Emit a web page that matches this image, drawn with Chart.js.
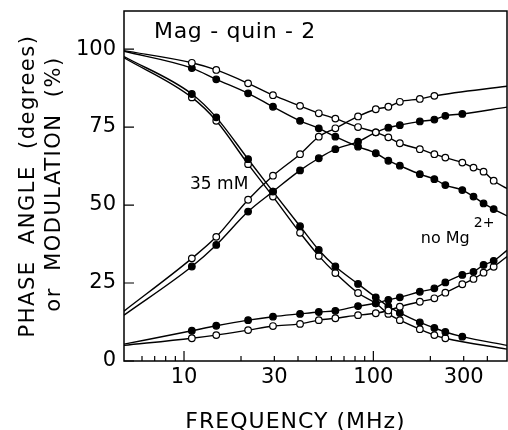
<!DOCTYPE html>
<html>
<head>
<meta charset="utf-8">
<script src="https://cdn.jsdelivr.net/npm/chart.js@4.4.1/dist/chart.umd.min.js"></script>
<style>
  html, body { margin: 0; padding: 0; background: #fff; }
  #wrap { width: 508px; height: 430px; position: relative; }
</style>
</head>
<body>
<div id="wrap"><canvas id="chart"></canvas></div>
<script>
// =================== DATA ===================
const freqMHz = [11, 14.8, 21.8, 29.5, 41, 51.5, 63, 83, 103, 120, 138, 176, 210, 240, 295, 338, 382, 432];
const xRange = [4.82, 508];

// modulation (%), no Mg2+
const modNoMgOpen   = [95.6, 93.3, 89.0, 85.2, 81.8, 79.4, 77.7, 75.0, 73.3, 71.7, 69.8, 67.9, 66.3, 65.2, 63.6, 62.0, 60.7, 57.8];
const modNoMgFilled = [93.9, 90.3, 85.8, 81.5, 77.0, 74.6, 71.9, 68.7, 66.6, 64.2, 62.6, 59.9, 58.3, 56.4, 54.8, 52.7, 50.5, 48.7];
// phase (degrees), no Mg2+
const phaseNoMgFilled = [9.7, 11.3, 13.1, 14.2, 15.1, 15.7, 16.1, 17.6, 18.5, 19.6, 20.4, 22.2, 23.3, 25.2, 27.6, 28.6, 30.8, 32.1];
const phaseNoMgOpen   = [7.3, 8.3, 9.9, 11.2, 11.9, 13.1, 13.7, 14.7, 15.3, 16.2, 17.4, 19.0, 20.1, 21.9, 24.6, 26.3, 28.3, 30.2];
// modulation (%), 35 mM
const mod35Filled = [85.6, 78.1, 64.7, 54.3, 43.2, 35.6, 30.3, 24.7, 20.4, 17.5, 15.4, 12.4, 10.6, 9.3, 7.8];
const mod35Open   = [84.5, 77.0, 63.1, 52.7, 41.1, 33.7, 28.2, 21.8, 18.5, 15.1, 13.1, 10.2, 8.3, 7.3];
// phase (degrees), 35 mM
const phase35Filled = [30.3, 37.2, 47.9, 54.3, 61.1, 65.0, 67.9, 70.3, 73.3, 74.8, 75.6, 76.8, 77.4, 78.6, 79.2];
const phase35Open   = [32.9, 39.8, 51.7, 59.4, 66.3, 71.9, 74.6, 78.4, 80.7, 81.5, 83.1, 84.0, 85.0];

// fitted curve values at the left / right edge of the plot
const modNoMgOpenEnds = [99.5, 55.3];
const modNoMgFilledEnds = [99.3, 46.5];
const phaseNoMgFilledEnds = [5.4, 35.5];
const phaseNoMgOpenEnds = [5.0, 33.5];
const mod35FilledEnds = [97.6, 5.0];
const mod35OpenEnds = [97.2, 3.8];
const phase35FilledEnds = [14.7, 81.4];
const phase35OpenEnds = [16.0, 88.1];

const yTicks = [0, 25, 50, 75, 100];
const xTicks = [6, 7, 8, 9, 10, 20, 30, 40, 50, 60, 70, 80, 90, 100, 200, 300, 400];
const xLabels = [10, 30, 100, 300];
const xMajor = [10, 100];

// =================== HELPERS ===================
const pts = vals => vals.map((v, i) => ({ x: freqMHz[i], y: v }));
const curve = (vals, ends) => [{ x: xRange[0], y: ends[0] }, ...pts(vals), { x: xRange[1], y: ends[1] }];

const seriesList = [
  [modNoMgOpen, modNoMgOpenEnds, true],
  [modNoMgFilled, modNoMgFilledEnds, false],
  [phaseNoMgFilled, phaseNoMgFilledEnds, false],
  [phaseNoMgOpen, phaseNoMgOpenEnds, true],
  [mod35Filled, mod35FilledEnds, false],
  [mod35Open, mod35OpenEnds, true],
  [phase35Filled, phase35FilledEnds, false],
  [phase35Open, phase35OpenEnds, true],
];

const lineSets = seriesList.map(([vals, ends]) => ({
  data: curve(vals, ends),
  showLine: true,
  borderColor: "#000",
  borderWidth: 1.4,
  pointRadius: 0,
  cubicInterpolationMode: "monotone",
  order: 2,
}));

const pointSets = seriesList.map(([vals, , open]) => ({
  data: pts(vals),
  showLine: false,
  pointRadius: 3.3,
  pointBorderWidth: 1.2,
  pointBorderColor: "#000",
  pointBackgroundColor: open ? "#fff" : "#000",
  order: 1,
}));

const FONT = "'DejaVu Sans', sans-serif";

// frame, inward ticks, axis titles and labels inside the plot
const framePlugin = {
  id: "frame",
  afterDraw(chart) {
    const { ctx, chartArea: a, scales: { x, y } } = chart;
    ctx.save();
    ctx.strokeStyle = "#000";
    ctx.lineWidth = 1.5;
    ctx.strokeRect(a.left, a.top, a.right - a.left, a.bottom - a.top);

    ctx.lineWidth = 1.2;
    ctx.beginPath();
    x.ticks.forEach(t => {
      const px = x.getPixelForValue(t.value);
      const len = xMajor.includes(t.value) ? 10 : 5;
      ctx.moveTo(px, a.bottom);
      ctx.lineTo(px, a.bottom - len);
    });
    y.ticks.forEach(t => {
      const py = y.getPixelForValue(t.value);
      ctx.moveTo(a.left, py);
      ctx.lineTo(a.left + 10, py);
    });
    ctx.stroke();

    ctx.fillStyle = "#000";
    ctx.textBaseline = "middle";
    ctx.textAlign = "left";
    ctx.font = `22px ${FONT}`;
    ctx.letterSpacing = "0.7px";
    ctx.fillText("Mag - quin - 2", x.getPixelForValue(6.94), y.getPixelForValue(105.4));
    ctx.letterSpacing = "0px";

    ctx.font = `17px ${FONT}`;
    ctx.fillText("35 mM", x.getPixelForValue(10.76), y.getPixelForValue(56.7));

    ctx.textBaseline = "alphabetic";
    ctx.font = `16px ${FONT}`;
    const nx = x.getPixelForValue(178);
    ctx.fillText("no Mg", nx, y.getPixelForValue(37.7));
    const w = ctx.measureText("no Mg").width;
    ctx.font = `14px ${FONT}`;
    ctx.fillText("2+", nx + w + 4, y.getPixelForValue(43.0));

    // x axis title
    ctx.font = `22px ${FONT}`;
    ctx.textAlign = "center";
    ctx.textBaseline = "middle";
    ctx.letterSpacing = "1px";
    ctx.fillText("FREQUENCY (MHz)", (a.left + a.right) / 2 - 20, chart.height - 8);

    // y axis title, two rotated lines
    ctx.font = `21px ${FONT}`;
    ctx.letterSpacing = "1.5px";
    ctx.translate(0, (a.top + a.bottom) / 2);
    ctx.rotate(-Math.PI / 2);
    ctx.fillText("PHASE  ANGLE  (degrees)", 0, 29);
    ctx.fillText("or  MODULATION  (%)", 2, 55);
    ctx.restore();
  }
};

Chart.defaults.color = "#000";
Chart.defaults.font.family = FONT;

new Chart(document.getElementById("chart"), {
  type: "scatter",
  data: { datasets: [...pointSets, ...lineSets] },
  options: {
    responsive: true,
    maintainAspectRatio: false,
    animation: false,
    layout: { autoPadding: false, padding: { left: 0, top: 11, right: 1, bottom: 40 } },
    plugins: { legend: { display: false }, tooltip: { enabled: false } },
    scales: {
      x: {
        type: "logarithmic",
        min: xRange[0],
        max: xRange[1],
        grid: { display: false, drawTicks: false },
        border: { display: false },
        afterBuildTicks: s => { s.ticks = xTicks.map(v => ({ value: v })); },
        afterFit: s => { s.height = 29; s.paddingLeft = 0; s.paddingRight = 0; },
        ticks: {
          autoSkip: false,
          maxRotation: 0,
          padding: 4,
          font: { size: 21 },
          callback: v => (xLabels.includes(v) ? String(v) : ""),
        },
      },
      y: {
        min: 0,
        max: 112.2,
        grid: { display: false, drawTicks: false },
        border: { display: false },
        afterBuildTicks: s => { s.ticks = yTicks.map(v => ({ value: v })); },
        afterFit: s => { s.width = 124; s.paddingTop = 0; s.paddingBottom = 0; },
        ticks: { padding: 8, font: { size: 21 } },
      },
    },
  },
  plugins: [framePlugin],
});
</script>
</body>
</html>
